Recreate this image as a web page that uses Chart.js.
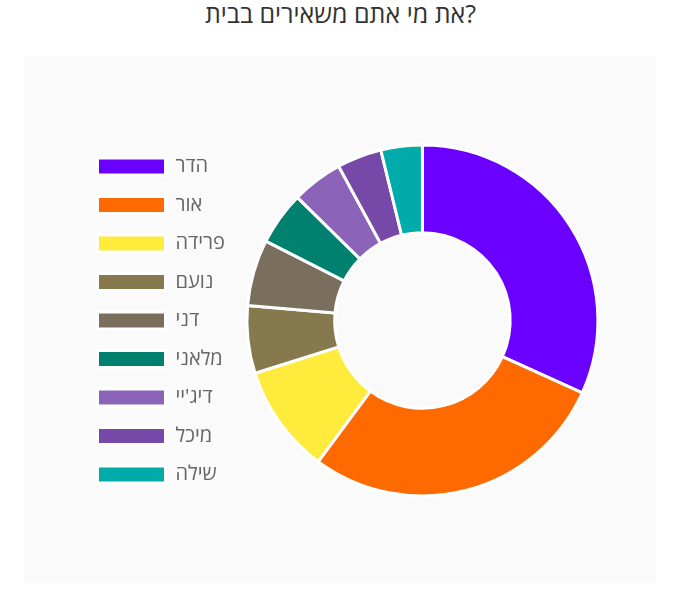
<!DOCTYPE html>
<html lang="he">
<head>
<meta charset="utf-8">
<script src="https://cdn.jsdelivr.net/npm/chart.js@4"></script>
<style>
  body { margin: 0; background: #fff; font-family: "Open Sans", sans-serif; }
  #title {
    position: absolute; left: 0; top: -1px; width: 681px;
    text-align: center; font-size: 25px; line-height: 28px; color: #333;
  }
  #panel {
    position: absolute; left: 24px; top: 56px; width: 632px; height: 527px;
    background: #fafafa;
  }
</style>
</head>
<body>
<div id="title">את מי אתם משאירים בבית?</div>
<div id="panel"><canvas id="chart" width="632" height="527"></canvas></div>
<script>
// who stays home
const names = ["הדר", "אור", "פרידה", "נועם", "דני", "מלאני", "דיג'יי", "מיכל", "שילה"];
const shares = [31.7, 28.3, 10.0, 6.2, 6.1, 4.9, 4.7, 4.1, 3.8];
const colors = ["#6a00ff", "#ff6a00", "#ffeb3b", "#87794e", "#7a6f5c", "#00806e", "#8b64ba", "#7649a9", "#00aba9"];

function createChart() {
  const ctx = document.getElementById("chart").getContext("2d");
  return new Chart(ctx, {
    type: "doughnut",
    data: {
      labels: names,
      datasets: [
        {
          data: shares,
          backgroundColor: colors,
          borderColor: "#fff",
          borderWidth: 3,
          hoverOffset: 0,
        },
      ],
    },
    options: {
      responsive: false,
      animation: false,
      cutout: "50%",
      radius: 175.5,
      layout: { padding: { left: 55, right: 46, top: 42, bottom: 40 } },
      plugins: {
        tooltip: { enabled: false },
        legend: {
          position: "left",
          labels: {
            boxWidth: 68,
            boxHeight: 17,
            padding: 18.5,
            color: "#666",
            font: { family: "Open Sans", size: 20 },
          },
        },
      },
    },
  });
}

createChart();
</script>
</body>
</html>
